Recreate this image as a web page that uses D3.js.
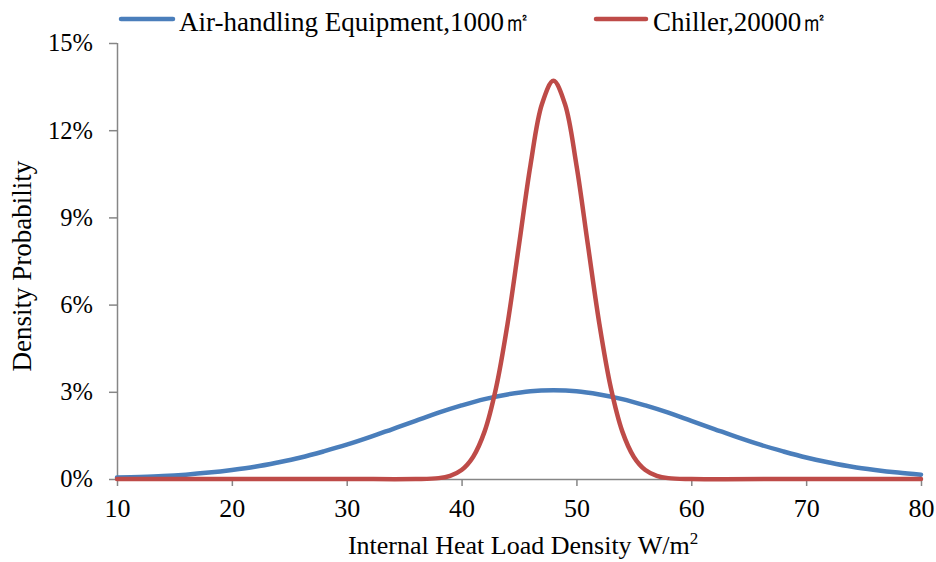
<!DOCTYPE html>
<html><head><meta charset="utf-8">
<script src="https://cdn.jsdelivr.net/npm/d3@7"></script>
<style>body{margin:0;background:#fff}svg{display:block}text{font-family:"Liberation Serif","Times New Roman",serif;fill:#000}</style>
</head><body><svg id="c" width="936" height="562"></svg>
<script>
const seriesNames = ["Air-handling Equipment,1000㎡", "Chiller,20000㎡"];
const xTicks = [10,20,30,40,50,60,70,80];
const yTicks = [0,3,6,9,12,15];
const blueX = [10,12,14,16,18,20,22,24,26,28,30,32,34,36,38,40,42,44,46,48,50,52,54,56,58,60,62,64,66,68,70,72,74,76,78,80];
const blueY = [0.05,0.07,0.10,0.15,0.22,0.31,0.42,0.57,0.74,0.95,1.18,1.44,1.72,2.00,2.28,2.53,2.75,2.91,3.02,3.05,3.02,2.91,2.75,2.53,2.28,2.00,1.72,1.44,1.18,0.95,0.74,0.57,0.42,0.31,0.22,0.15];
const redX = [10,20,30,36,38,39,40,41,42,43,44,45,46,47,48,49,50,51,52,53,54,55,56,57,58,60,70,80];
const redY = [0,0,0,0,0.03,0.11,0.31,0.76,1.63,3.13,5.33,8.05,10.8,12.9,13.7,12.9,10.8,8.05,5.33,3.13,1.63,0.76,0.31,0.11,0.03,0,0,0];

const svg = d3.select("#c");
const x = d3.scaleLinear().domain([10,80]).range([117,921]);
const y = d3.scaleLinear().domain([0,15]).range([479,43]);
const axisColor = "#868686";

const yAxis = svg.append("g").attr("transform","translate(117,0)")
  .call(d3.axisLeft(y).tickValues(yTicks).tickSize(8).tickPadding(16).tickFormat(d=>d+"%"));
const xAxis = svg.append("g").attr("transform","translate(0,479)")
  .call(d3.axisBottom(x).tickValues(xTicks).tickSize(7).tickPadding(13).tickFormat(d=>d));
[yAxis,xAxis].forEach(g=>{
  g.select(".domain").attr("stroke",axisColor).attr("stroke-width",1.5);
  g.selectAll(".tick line").attr("stroke",axisColor).attr("stroke-width",1.5);
  g.selectAll(".tick text").style("font-family","Liberation Serif, serif").attr("fill","#000");
});
yAxis.selectAll(".tick text").style("font-size","24.5px");
xAxis.selectAll(".tick text").style("font-size","26px");
xAxis.select(".domain").attr("d","M117,0.5H921");
yAxis.select(".domain").attr("d","M0.5,43V479");

const line = d3.line().x(d=>x(d[0])).y(d=>y(d[1])).curve(d3.curveCatmullRom.alpha(0.5));
const blue = blueX.map((v,i)=>[v,blueY[i]]);
const red = redX.map((v,i)=>[v,redY[i]]);
svg.append("path").datum(blue).attr("d",line).attr("fill","none").attr("stroke","#4A7EBB").attr("stroke-width",4.5).attr("stroke-linecap","round");
svg.append("path").datum(red).attr("d",line).attr("fill","none").attr("stroke","#BE4B48").attr("stroke-width",4.5).attr("stroke-linecap","round");

// legend
const leg = [{c:"#4A7EBB",x1:121,x2:173,tx:179},{c:"#BE4B48",x1:596,x2:646,tx:653}];
leg.forEach((l,i)=>{
  svg.append("line").attr("x1",l.x1).attr("x2",l.x2).attr("y1",19).attr("y2",19).attr("stroke",l.c).attr("stroke-width",4.5).attr("stroke-linecap","round");
  svg.append("text").attr("x",l.tx).attr("y",30.5).style("font-size","27px").text(seriesNames[i]);
});

svg.append("text").attr("x",523).attr("y",554).attr("text-anchor","middle").style("font-size","26px")
  .html('Internal Heat Load Density W/m<tspan dy="-10" font-size="17">2</tspan>');
svg.append("text").attr("transform","translate(31,266) rotate(-90)").attr("text-anchor","middle").style("font-size","27px").text("Density Probability");
</script></body></html>
